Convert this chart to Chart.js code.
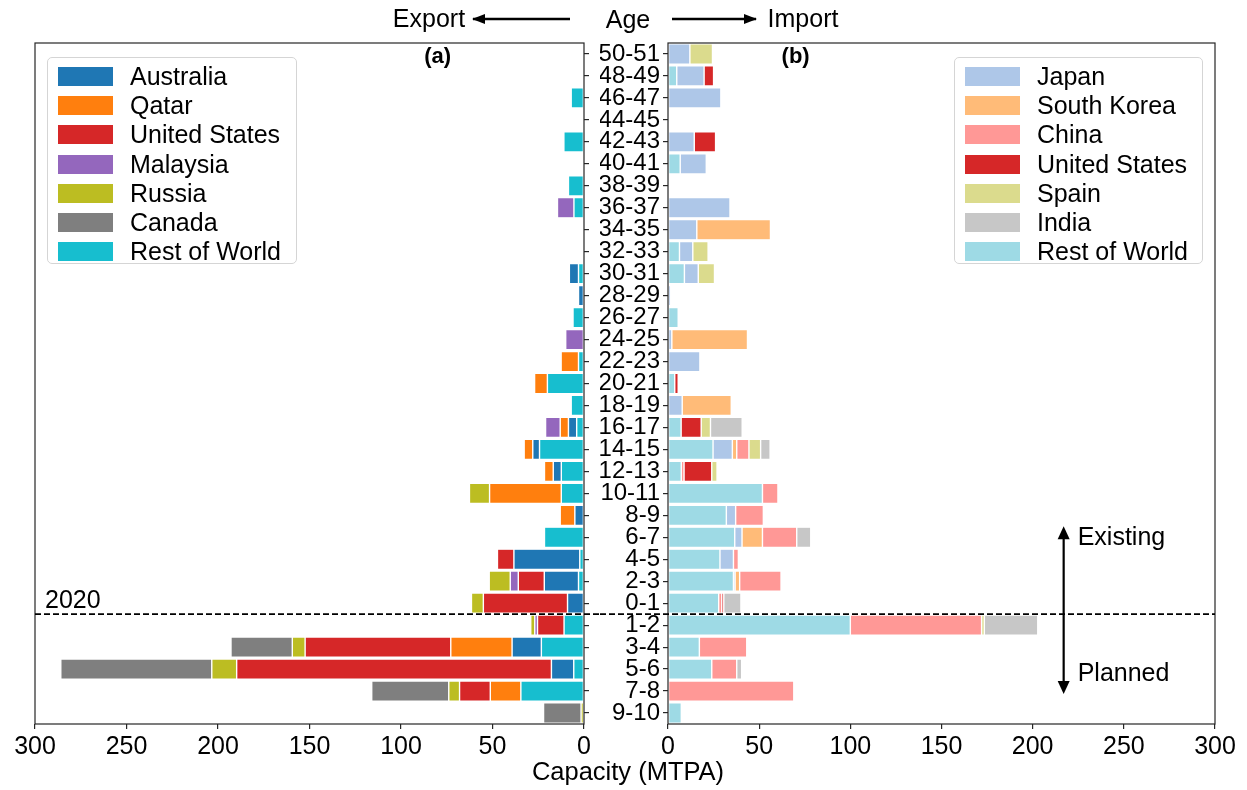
<!DOCTYPE html>
<html>
<head>
<meta charset="utf-8">
<script src="https://cdn.jsdelivr.net/npm/chart.js@4.4.0/dist/chart.umd.min.js"></script>
<style>
  body { margin: 0; background: #fff; font-family: "Liberation Sans", Arial, sans-serif; }
  #wrap { position: relative; width: 1247px; height: 790px; overflow: hidden; }
  canvas { position: absolute; top: 0; }
  #left { left: 0; }
  #right { left: 600px; }
  .legend { position: absolute; top: 57px; height: 207px; border: 1px solid #d5d5d5; border-radius: 5px;
            background: rgba(255,255,255,0.85); padding: 4px 9px 0 10px; box-sizing: border-box; }
  .legend .row { display: flex; align-items: center; height: 29.2px; font-size: 25px; white-space: nowrap; }
  .legend .sw { width: 55px; height: 19px; margin-right: 17px; flex: none; }
  #xlabel { position: absolute; top: 757px; left: 0; width: 1256px; text-align: center; font-size: 25.5px; }
  #topline { position: absolute; left: 0; top: 0; }
</style>
</head>
<body>
<div id="wrap">
  <canvas id="left" width="600" height="790"></canvas>
  <canvas id="right" width="647" height="790"></canvas>
  <div class="legend" id="legLeft" style="left:47px; width:250px;"></div>
  <div class="legend" id="legRight" style="left:954px; width:249px;"></div>
  <svg id="topline" width="1247" height="40">
    <defs>
      <marker id="ah" markerUnits="userSpaceOnUse" markerWidth="14" markerHeight="12" refX="12" refY="6" orient="auto">
        <path d="M0,1 L13,6 L0,11 z" fill="#000"/>
      </marker>
    </defs>
    <g font-family="Liberation Sans, Arial, sans-serif" font-size="25" fill="#000">
      <text x="429" y="27" text-anchor="middle">Export</text>
      <text x="628" y="28" text-anchor="middle">Age</text>
      <text x="803" y="27" text-anchor="middle">Import</text>
    </g>
    <line x1="570" y1="19" x2="473" y2="19" stroke="#000" stroke-width="2.5" marker-end="url(#ah)"/>
    <line x1="672" y1="19" x2="756" y2="19" stroke="#000" stroke-width="2.5" marker-end="url(#ah)"/>
  </svg>
  <div id="xlabel">Capacity (MTPA)</div>
</div>
<script>
// Age bins: existing terminals first, then planned ones below the 2020 line
const ages = ['50-51', '48-49', '46-47', '44-45', '42-43', '40-41', '38-39', '36-37', '34-35', '32-33',
              '30-31', '28-29', '26-27', '24-25', '22-23', '20-21', '18-19', '16-17', '14-15', '12-13',
              '10-11', '8-9', '6-7', '4-5', '2-3', '0-1', '1-2', '3-4', '5-6', '7-8', '9-10'];
const xTicks = [0, 50, 100, 150, 200, 250, 300];
const _ = null;

// Export (a) - MTPA
const exRestOfWorld = [_, _, 7, _, 11, _, 8.5, 5.5, _, _,
                       3, _, 6, _, 3, 20, 7, 4, 24.3, 12.4,
                       12.4, _, 21.6, 2.3, 3, _, 10.9, 23.3, 5.6, 34.5, _];
const exAustralia   = [_, _, _, _, _, _, _, _, _, _,
                       5, 3, _, _, _, _, _, 4.5, 3.7, 4.4,
                       _, 5, _, 36, 18.7, 9, _, 16, 12.2, _, _];
const exQatar       = [_, _, _, _, _, _, _, _, _, _,
                       _, _, _, _, 9.5, 7, _, 4.5, 4.7, 4.8,
                       39.2, 8, _, _, _, _, _, 33.5, _, 16.7, _];
const exUnitedStates = [_, _, _, _, _, _, _, _, _, _,
                        _, _, _, _, _, _, _, _, _, _,
                        _, _, _, 9, 14.2, 46, 14.5, 79.6, 172, 16.8, _];
const exMalaysia    = [_, _, _, _, _, _, _, 9, _, _,
                       _, _, _, 10, _, _, _, 8, _, _,
                       _, _, _, _, 4.4, _, 1.5, _, _, _, _];
const exRussia      = [_, _, _, _, _, _, _, _, _, _,
                       _, _, _, _, _, _, _, _, _, _,
                       11, _, _, _, 11.5, 6.5, 2.2, 7, 13.6, 5.9, 1.6];
const exCanada      = [_, _, _, _, _, _, _, _, _, _,
                       _, _, _, _, _, _, _, _, _, _,
                       _, _, _, _, _, _, _, 33.5, 82.5, 42.1, 20.5];

// Import (b) - MTPA
const imRestOfWorld = [_, 4.8, _, _, _, 6.7, _, _, _, 6.3,
                       9, _, 5.6, _, _, 3.7, _, 7.2, 24.7, 7.3,
                       51.8, 32, 36.6, 28.5, 35.9, 27.8, 100, 17.2, 24, _, 7.3];
const imJapan       = [12, 15, 29, _, 14.4, 14.3, _, 34, 15.8, 7.3,
                       7.6, 1.5, _, 2.1, 17.5, _, 7.8, _, 10.6, _,
                       _, 5.1, 4, 7.4, 0.9, _, _, _, _, _, _];
const imSouthKorea  = [_, _, _, _, _, _, _, _, 40.4, _,
                       _, _, _, 41.5, _, _, 26.9, _, 2.4, _,
                       _, _, 11.2, _, 2.5, _, _, _, _, _, _];
const imChina       = [_, _, _, _, _, _, _, _, _, _,
                       _, _, _, _, _, _, _, _, 6.7, 1.5,
                       8.5, 15.2, 18.8, 2.7, 22.7, 1.7, 72, 26, 13.7, 69, _];
const imUnitedStates = [_, 5.2, _, _, 11.7, _, _, _, _, _,
                        _, _, _, _, _, 1.9, _, 11, _, 15.2,
                        _, _, _, _, _, 1.1, _, _, _, _, _];
const imSpain       = [12.4, _, _, _, _, _, _, _, _, 8.4,
                       8.9, _, _, _, _, _, _, 5.1, 6.4, 2.9,
                       _, _, _, _, _, _, 1.5, _, _, _, _];
const imIndia       = [_, _, _, _, _, _, _, _, _, _,
                       _, _, _, _, _, _, _, 17.4, 5.2, _,
                       _, _, 7.7, _, _, 9.4, 29.3, _, 2.7, _, _];

Chart.defaults.font.family = '"Liberation Sans", Arial, sans-serif';
Chart.defaults.color = '#000';

function ds(label, data, color) {
    return { label: label, data: data, backgroundColor: color, borderColor: 'rgba(255,255,255,0.9)',
             borderWidth: 0.7, borderSkipped: false, barPercentage: 0.92, categoryPercentage: 1.0 };
}

// stacking follows dataset order (Rest of World sits next to the axis)
const exportSets = [
    ds('Rest of World', exRestOfWorld, '#17becf'),
    ds('Australia', exAustralia, '#1f77b4'),
    ds('Qatar', exQatar, '#ff7f0e'),
    ds('United States', exUnitedStates, '#d62728'),
    ds('Malaysia', exMalaysia, '#9467bd'),
    ds('Russia', exRussia, '#bcbd22'),
    ds('Canada', exCanada, '#7f7f7f')
];
const importSets = [
    ds('Rest of World', imRestOfWorld, '#9edae5'),
    ds('Japan', imJapan, '#aec7e8'),
    ds('South Korea', imSouthKorea, '#ffbb78'),
    ds('China', imChina, '#ff9896'),
    ds('United States', imUnitedStates, '#d62728'),
    ds('Spain', imSpain, '#dbdb8d'),
    ds('India', imIndia, '#c7c7c7')
];

function splitY(scale) {
    return (scale.getPixelForValue(ages.indexOf('0-1')) + scale.getPixelForValue(ages.indexOf('1-2'))) / 2;
}

function arrowHead(ctx, x, y, dir) {
    ctx.beginPath();
    ctx.moveTo(x, y);
    ctx.lineTo(x - 6, y - dir * 13);
    ctx.lineTo(x + 6, y - dir * 13);
    ctx.closePath();
    ctx.fill();
}

// frame, 2020 line and notes
const extras = {
    id: 'extras',
    afterDatasetsDraw(chart, args, opts) {
        const { ctx, chartArea: a, scales } = chart;
        ctx.save();
        ctx.strokeStyle = '#262626';
        ctx.lineWidth = 1.2;
        ctx.strokeRect(a.left, a.top, a.right - a.left, a.bottom - a.top);

        const y = splitY(scales.y);
        ctx.strokeStyle = '#000';
        ctx.lineWidth = 1.6;
        ctx.setLineDash([6, 3]);
        ctx.beginPath();
        if (opts.side === 'left') {
            ctx.moveTo(a.left, y); ctx.lineTo(chart.width, y);
        } else {
            ctx.moveTo(0, y); ctx.lineTo(a.right, y);
        }
        ctx.stroke();
        ctx.setLineDash([]);

        ctx.fillStyle = '#000';
        ctx.font = 'bold 22px "Liberation Sans", Arial, sans-serif';
        ctx.textAlign = 'center';
        ctx.textBaseline = 'middle';
        ctx.fillText(opts.panel, scales.x.getPixelForValue(opts.panelAt), a.top + 14);

        ctx.font = '25px "Liberation Sans", Arial, sans-serif';
        if (opts.side === 'left') {
            ctx.textAlign = 'left';
            ctx.textBaseline = 'bottom';
            ctx.fillText('2020', a.left + 10, y - 1);
        } else {
            const ys = scales.y;
            const x = scales.x.getPixelForValue(217);
            const yTop = (ys.getPixelForValue(ages.indexOf('8-9')) + ys.getPixelForValue(ages.indexOf('6-7'))) / 2;
            const yBot = ys.getPixelForValue(ages.indexOf('7-8')) + 3;
            ctx.lineWidth = 2.2;
            ctx.beginPath();
            ctx.moveTo(x, yTop + 8); ctx.lineTo(x, yBot - 8);
            ctx.stroke();
            arrowHead(ctx, x, yTop, -1);
            arrowHead(ctx, x, yBot, 1);
            ctx.textAlign = 'left';
            ctx.textBaseline = 'middle';
            ctx.fillText('Existing', x + 14, ys.getPixelForValue(ages.indexOf('6-7')) + 1);
            const p5 = ys.getPixelForValue(ages.indexOf('5-6'));
            const p7 = ys.getPixelForValue(ages.indexOf('7-8'));
            ctx.fillText('Planned', x + 14, (3 * p5 + p7) / 4);
        }
        ctx.restore();
    }
};

function makeChart(id, sets, side) {
    const left = side === 'left';
    return new Chart(document.getElementById(id).getContext('2d'), {
        type: 'bar',
        data: { labels: ages, datasets: sets },
        options: {
            indexAxis: 'y',
            responsive: false,
            animation: false,
            layout: { padding: left ? { left: 35, top: 43, right: 0, bottom: 0 } : { left: 0, top: 43, right: 32, bottom: 0 } },
            plugins: {
                legend: { display: false },
                tooltip: { enabled: false },
                extras: left ? { side: 'left', panel: '(a)', panelAt: 80 } : { side: 'right', panel: '(b)', panelAt: 70 }
            },
            scales: {
                x: {
                    stacked: true,
                    reverse: left,
                    min: 0, max: 300,
                    afterBuildTicks: (axis) => { axis.ticks = xTicks.map(v => ({ value: v })); },
                    grid: { drawOnChartArea: false, drawTicks: true, tickLength: 5, color: '#262626', lineWidth: 1.2 },
                    border: { display: false },
                    ticks: { font: { size: 25 }, padding: 3, autoSkip: false, maxRotation: 0 },
                    afterFit: (axis) => { axis.height = 66; }
                },
                y: {
                    stacked: true,
                    position: left ? 'right' : 'left',
                    grid: { offset: false, drawOnChartArea: false, drawTicks: true, tickLength: 5, color: '#262626', lineWidth: 1.2 },
                    border: { display: false },
                    ticks: { display: !left, font: { size: 24, lineHeight: 1 }, padding: 3, autoSkip: false },
                    afterFit: (axis) => { axis.width = left ? 16 : 68; }
                }
            }
        },
        plugins: [extras]
    });
}

const leftChart = makeChart('left', exportSets, 'left');
const rightChart = makeChart('right', importSets, 'right');

// legends drawn inside the panels, Rest of World listed last
function fillLegend(elId, sets) {
    const order = sets.slice(1).concat(sets[0]);
    document.getElementById(elId).innerHTML = order.map(s =>
        '<div class="row"><span class="sw" style="background:' + s.backgroundColor + '"></span>' + s.label + '</div>'
    ).join('');
}
fillLegend('legLeft', exportSets);
fillLegend('legRight', importSets);
</script>
</body>
</html>
